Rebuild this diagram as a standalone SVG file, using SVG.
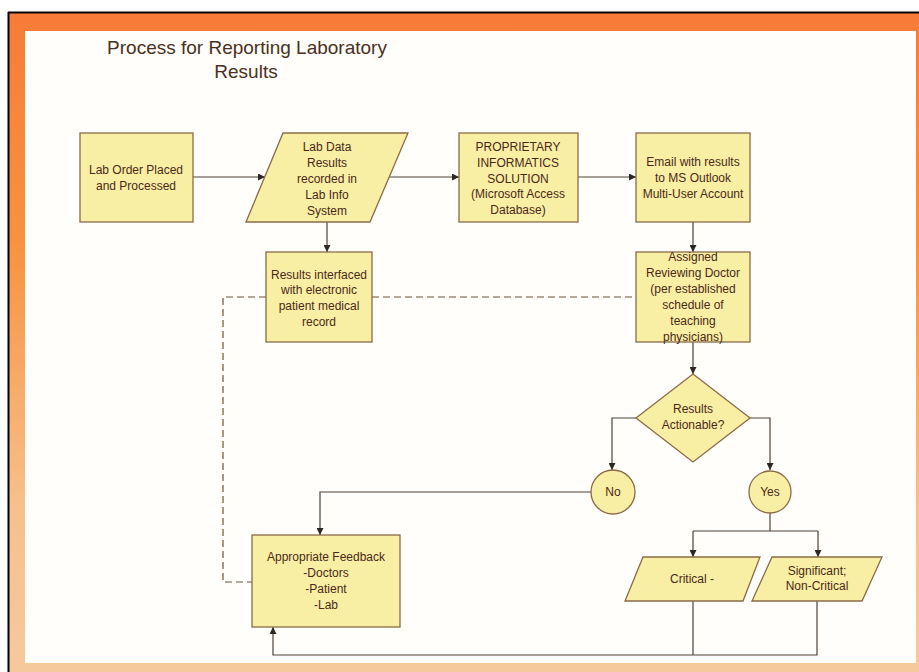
<svg xmlns="http://www.w3.org/2000/svg" width="919" height="672" viewBox="0 0 919 672">
  <defs>
    <linearGradient id="frameGrad" x1="0" y1="0" x2="0" y2="1">
      <stop offset="0" stop-color="#f77c38"/>
      <stop offset="0.35" stop-color="#f8923f"/>
      <stop offset="0.75" stop-color="#f7c08c"/>
      <stop offset="1" stop-color="#f6c99c"/>
    </linearGradient>
    <marker id="arrow" viewBox="0 0 10 10" refX="10" refY="5" markerWidth="7" markerHeight="7" orient="auto" markerUnits="userSpaceOnUse">
      <path d="M0,0 L10,5 L0,10 z" fill="#2e2620"/>
    </marker>
    <style>
      .box { fill: #f9efa4; stroke: #8a6b48; stroke-width: 1.3; }
      .lbl { font-family: "Liberation Sans", Arial, sans-serif; font-size: 12px; fill: #4a2818; text-anchor: middle; }
      .title { font-family: "Liberation Sans", Arial, sans-serif; font-size: 19px; fill: #4a3020; text-anchor: middle; }
      .link { fill: none; stroke: #4e4238; stroke-width: 1.2; }
      .dash { fill: none; stroke: #6e5236; stroke-width: 1.2; stroke-dasharray: 7 4; }
    </style>
  </defs>

  <!-- page and slide frame -->
  <rect x="0" y="0" width="919" height="672" fill="#ffffff"/>
  <rect x="8" y="12" width="911" height="660" fill="url(#frameGrad)"/>
  <rect x="9" y="660" width="910" height="12" fill="#f6c99c"/>
  <rect x="25" y="31" width="891" height="632" fill="#fffefb"/>
  <line x1="8" y1="12.5" x2="919" y2="12.5" stroke="#000" stroke-width="2"/>
  <line x1="8.5" y1="12" x2="8.5" y2="672" stroke="#000" stroke-width="2"/>

  <!-- title -->
  <g id="title">
    <text class="title" x="247" y="54">Process for Reporting Laboratory</text>
    <text class="title" x="246" y="78">Results</text>
  </g>

  <!-- connectors -->
  <g id="connectors">
    <line class="link" x1="193" y1="177" x2="265" y2="177" marker-end="url(#arrow)"/>
    <line class="link" x1="389" y1="177" x2="459" y2="177" marker-end="url(#arrow)"/>
    <line class="link" x1="578" y1="177" x2="636" y2="177" marker-end="url(#arrow)"/>
    <line class="link" x1="327" y1="222" x2="327" y2="252" marker-end="url(#arrow)"/>
    <line class="link" x1="693" y1="222" x2="693" y2="252" marker-end="url(#arrow)"/>
    <line class="link" x1="693" y1="342" x2="693" y2="374" marker-end="url(#arrow)"/>
    <polyline class="link" points="636,418 612,418 612,470" marker-end="url(#arrow)"/>
    <polyline class="link" points="750,418 770,418 770,470" marker-end="url(#arrow)"/>
    <polyline class="link" points="591,492 320,492 320,535" marker-end="url(#arrow)"/>
    <line class="link" x1="770" y1="513" x2="770" y2="531"/>
    <line class="link" x1="693" y1="531" x2="818" y2="531"/>
    <line class="link" x1="693" y1="531" x2="693" y2="557" marker-end="url(#arrow)"/>
    <line class="link" x1="818" y1="531" x2="818" y2="557" marker-end="url(#arrow)"/>
    <line class="link" x1="693" y1="601" x2="693" y2="655"/>
    <polyline class="link" points="817,601 817,655 273,655 273,627" marker-end="url(#arrow)"/>
    <polyline class="dash" points="266,297 223,297 223,582 252,582"/>
    <line class="dash" x1="372" y1="297" x2="636" y2="297"/>
  </g>

  <g id="lab-order">
    <rect class="box" x="80" y="133" width="113" height="89"/>
    <text class="lbl" x="136" y="174">Lab Order Placed</text>
    <text class="lbl" x="136" y="190">and Processed</text>
  </g>

  <g id="lab-data">
    <polygon class="box" points="283,133 408,133 370,222 246,222"/>
    <text class="lbl" x="327" y="151">Lab Data</text>
    <text class="lbl" x="327" y="167">Results</text>
    <text class="lbl" x="327" y="183">recorded in</text>
    <text class="lbl" x="327" y="199">Lab Info</text>
    <text class="lbl" x="327" y="215">System</text>
  </g>

  <g id="proprietary">
    <rect class="box" x="459" y="133" width="119" height="89"/>
    <text class="lbl" x="518" y="151">PROPRIETARY</text>
    <text class="lbl" x="518" y="167">INFORMATICS</text>
    <text class="lbl" x="518" y="183">SOLUTION</text>
    <text class="lbl" x="518" y="198">(Microsoft Access</text>
    <text class="lbl" x="518" y="214">Database)</text>
  </g>

  <g id="email">
    <rect class="box" x="636" y="133" width="114" height="89"/>
    <text class="lbl" x="693" y="166">Email with results</text>
    <text class="lbl" x="693" y="182">to MS Outlook</text>
    <text class="lbl" x="693" y="198">Multi-User Account</text>
  </g>

  <g id="interfaced">
    <rect class="box" x="266" y="252" width="106" height="90"/>
    <text class="lbl" x="319" y="279">Results interfaced</text>
    <text class="lbl" x="319" y="294">with electronic</text>
    <text class="lbl" x="319" y="310">patient medical</text>
    <text class="lbl" x="319" y="326">record</text>
  </g>

  <g id="reviewing-doctor">
    <rect class="box" x="636" y="252" width="114" height="90"/>
    <text class="lbl" x="693" y="261">Assigned</text>
    <text class="lbl" x="693" y="277">Reviewing Doctor</text>
    <text class="lbl" x="693" y="293">(per established</text>
    <text class="lbl" x="693" y="309">schedule of</text>
    <text class="lbl" x="693" y="325">teaching</text>
    <text class="lbl" x="693" y="341">physicians)</text>
  </g>

  <g id="actionable">
    <polygon class="box" points="693,374 750,418 693,462 636,418"/>
    <text class="lbl" x="693" y="413">Results</text>
    <text class="lbl" x="693" y="429">Actionable?</text>
  </g>

  <g id="no">
    <circle class="box" cx="613" cy="492" r="22"/>
    <text class="lbl" x="613" y="496">No</text>
  </g>

  <g id="yes">
    <circle class="box" cx="770" cy="492" r="21"/>
    <text class="lbl" x="770" y="496">Yes</text>
  </g>

  <g id="feedback">
    <rect class="box" x="252" y="535" width="148" height="92"/>
    <text class="lbl" x="326" y="561">Appropriate Feedback</text>
    <text class="lbl" x="326" y="577">-Doctors</text>
    <text class="lbl" x="326" y="593">-Patient</text>
    <text class="lbl" x="326" y="609">-Lab</text>
  </g>

  <g id="critical">
    <polygon class="box" points="643,557 760,557 743,601 625,601"/>
    <text class="lbl" x="692" y="583">Critical -</text>
  </g>

  <g id="significant">
    <polygon class="box" points="772,557 882,557 862,601 752,601"/>
    <text class="lbl" x="817" y="575">Significant;</text>
    <text class="lbl" x="817" y="590">Non-Critical</text>
  </g>
</svg>
